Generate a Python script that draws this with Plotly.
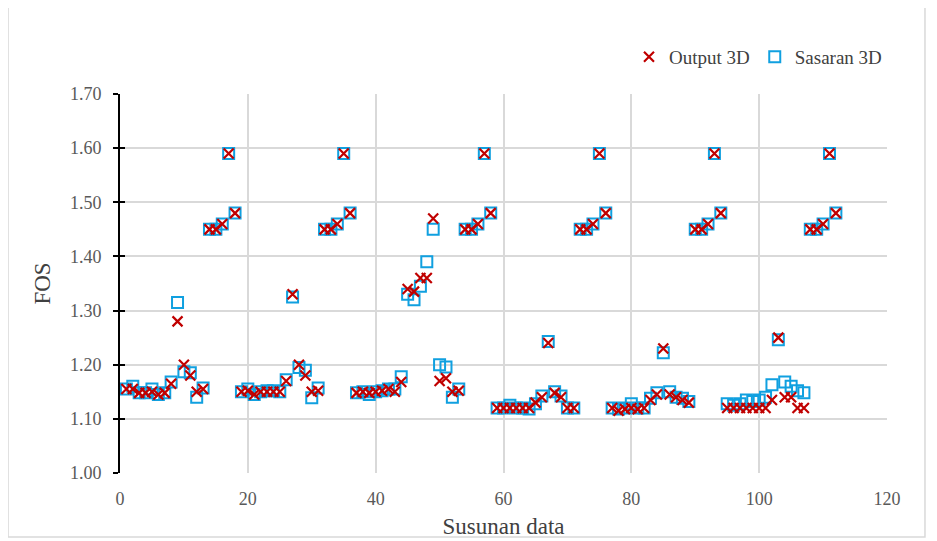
import plotly.graph_objects as go

# ---- data ----
susunan = list(range(1, 113))

output_3d = [
    # 1-18
    1.155, 1.155, 1.148, 1.148, 1.150, 1.145, 1.148, 1.165, 1.280, 1.200,
    1.180, 1.150, 1.155, 1.450, 1.450, 1.460, 1.590, 1.480,
    # 19-36
    1.150, 1.152, 1.145, 1.150, 1.150, 1.150, 1.150, 1.170, 1.330, 1.200,
    1.180, 1.150, 1.152, 1.450, 1.450, 1.460, 1.590, 1.480,
    # 37-58
    1.148, 1.150, 1.148, 1.150, 1.152, 1.155, 1.150, 1.168, 1.340, 1.335,
    1.360, 1.360, 1.470, 1.170, 1.175, 1.150, 1.152, 1.450, 1.450, 1.460,
    1.590, 1.480,
    # 59-76
    1.120, 1.120, 1.120, 1.120, 1.120, 1.120, 1.130, 1.140, 1.240, 1.148,
    1.140, 1.120, 1.120, 1.450, 1.450, 1.460, 1.590, 1.480,
    # 77-94
    1.120, 1.115, 1.118, 1.120, 1.118, 1.120, 1.135, 1.145, 1.230, 1.145,
    1.140, 1.135, 1.130, 1.450, 1.450, 1.460, 1.590, 1.480,
    # 95-112
    1.120, 1.120, 1.120, 1.120, 1.120, 1.120, 1.120, 1.135, 1.250, 1.140,
    1.140, 1.120, 1.120, 1.450, 1.450, 1.460, 1.590, 1.480,
]

sasaran_3d = [
    # 1-18
    1.155, 1.160, 1.148, 1.148, 1.155, 1.145, 1.148, 1.168, 1.315, 1.187,
    1.185, 1.140, 1.157, 1.450, 1.450, 1.460, 1.590, 1.480,
    # 19-36
    1.150, 1.155, 1.145, 1.150, 1.152, 1.152, 1.150, 1.172, 1.325, 1.195,
    1.190, 1.139, 1.157, 1.450, 1.450, 1.460, 1.590, 1.480,
    # 37-58
    1.148, 1.150, 1.145, 1.150, 1.152, 1.155, 1.155, 1.178, 1.330, 1.320,
    1.345, 1.390, 1.450, 1.200, 1.196, 1.140, 1.155, 1.450, 1.450, 1.460,
    1.590, 1.480,
    # 59-76
    1.120, 1.120, 1.125, 1.120, 1.120, 1.118, 1.128, 1.142, 1.243, 1.150,
    1.142, 1.120, 1.120, 1.450, 1.450, 1.460, 1.590, 1.480,
    # 77-94
    1.120, 1.118, 1.120, 1.128, 1.120, 1.120, 1.138, 1.148, 1.222, 1.150,
    1.140, 1.138, 1.132, 1.450, 1.450, 1.460, 1.590, 1.480,
    # 95-112
    1.128, 1.125, 1.128, 1.135, 1.132, 1.135, 1.140, 1.163, 1.246, 1.168,
    1.160, 1.152, 1.148, 1.450, 1.450, 1.460, 1.590, 1.480,
]

x_ticks = [0, 20, 40, 60, 80, 100, 120]
y_ticks = [1.00, 1.10, 1.20, 1.30, 1.40, 1.50, 1.60, 1.70]
y_tick_labels = ["1.00", "1.10", "1.20", "1.30", "1.40", "1.50", "1.60", "1.70"]

FONT = "Liberation Serif"
GRID = "#d9d9d9"

fig = go.Figure()

fig.add_trace(go.Scatter(
    x=susunan, y=sasaran_3d, mode="markers", name="Sasaran 3D",
    legendrank=2,
    marker=dict(symbol="square-open", size=11, color="#10A0E0",
                line=dict(width=2, color="#10A0E0")),
))
fig.add_trace(go.Scatter(
    x=susunan, y=output_3d, mode="markers", name="Output 3D",
    legendrank=1,
    marker=dict(symbol="x-thin", size=10, color="#C00000",
                line=dict(width=2.2, color="#C00000")),
))

fig.update_layout(
    width=937, height=541,
    margin=dict(l=112, r=58, t=86, b=76),
    paper_bgcolor="white", plot_bgcolor="white",
    font=dict(family=FONT, color="#404040"),
    showlegend=True,
    legend=dict(orientation="h", x=1.0, xanchor="right", y=1.098, yanchor="middle",
                font=dict(family=FONT, size=19, color="#404040"),
                itemwidth=30, tracegroupgap=0, bgcolor="rgba(0,0,0,0)"),
    xaxis=dict(
        range=[0, 120], tickvals=x_ticks, ticktext=[str(v) for v in x_ticks],
        showgrid=True, gridcolor=GRID, gridwidth=2, zeroline=False,
        showline=False, ticks="", ticklabelstandoff=13,
        tickfont=dict(family=FONT, size=18, color="#595959"),
        title=dict(text="Susunan data", standoff=9,
                   font=dict(family=FONT, size=23, color="#404040")),
    ),
    yaxis=dict(
        range=[1.0, 1.7], tickvals=y_ticks, ticktext=y_tick_labels,
        showgrid=True, gridcolor=GRID, gridwidth=2, zeroline=False,
        showline=True, linecolor="black", linewidth=2,
        ticks="outside", ticklen=5, tickwidth=2, tickcolor="black",
        ticklabelstandoff=8,
        tickfont=dict(family=FONT, size=18, color="#595959"),
        title=dict(text="FOS", standoff=13,
                   font=dict(family=FONT, size=23, color="#404040")),
    ),
    yaxis2=dict(
        range=[1.0, 1.7], tickvals=y_ticks, overlaying="y", side="left",
        showgrid=False, zeroline=False, showline=False,
        ticks="inside", ticklen=5, tickwidth=2, tickcolor="black",
        showticklabels=False,
    ),
    shapes=[dict(type="rect", xref="paper", yref="paper",
                 x0=-0.146, x1=1.0495, y0=-0.169, y1=1.238,
                 line=dict(color="#d9d9d9", width=1.5), layer="below")],
)

fig.add_trace(go.Scatter(x=[], y=[], yaxis="y2", showlegend=False, hoverinfo="skip"))

fig.write_html("out.html")
